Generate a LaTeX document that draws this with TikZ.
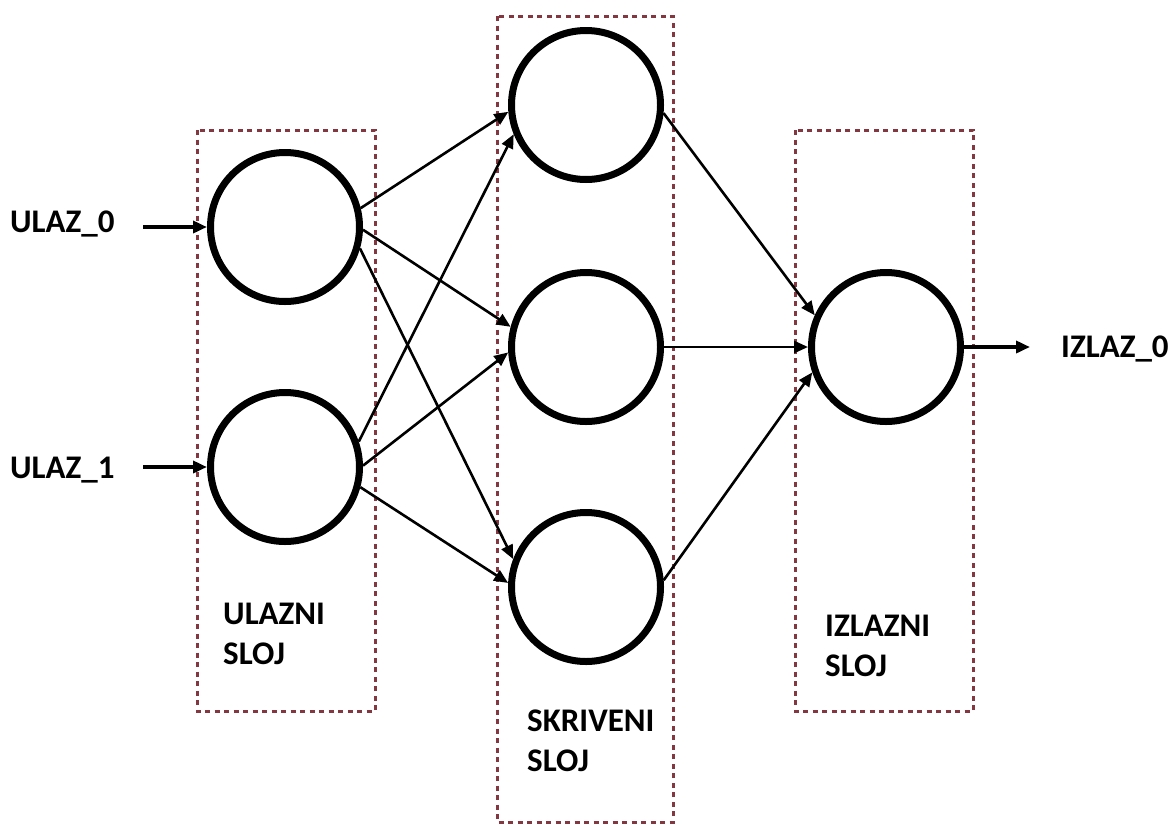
\documentclass[tikz,border=0pt]{standalone}
\usepackage{fontspec}
\setmainfont{Carlito}
\usetikzlibrary{arrows.meta}
\definecolor{boxred}{RGB}{130,55,65}

\begin{document}
\begin{tikzpicture}[x=1pt, y=-1pt,
    neuron/.style={circle, draw=black, line width=7pt, minimum size=149pt, inner sep=0pt},
    layerbox/.style={draw=boxred, line width=3pt, dash pattern=on 5pt off 4.5pt},
    arrow/.style={-{Triangle[length=14pt, width=12pt]}, line width=2.6pt, black},
    label/.style={font=\fontsize{33}{40}\selectfont\bfseries, inner sep=0pt, align=left}
]
    \useasboundingbox (0,0) rectangle (1172,825);

    % Layer boxes
    \draw[layerbox] (197,130) rectangle (375,711);
    \draw[layerbox] (497,16) rectangle (673,822);
    \draw[layerbox] (795,130) rectangle (973,711);

    % Nodes
    \node[neuron] (in0) at (285,227) {};
    \node[neuron] (in1) at (285,467) {};
    \node[neuron] (h0) at (586,105) {};
    \node[neuron] (h1) at (586,347) {};
    \node[neuron] (h2) at (586,587) {};
    \node[neuron] (out) at (886,347) {};

    % Inputs and output
    \node[label, anchor=base west] (x0) at (10,232) {ULAZ\_0};
    \node[label, anchor=base west] (x1) at (10,478) {ULAZ\_1};
    \node[label, anchor=base west] (y0) at (1061,357) {IZLAZ\_0};
    \coordinate (x0end) at (143,227);
    \coordinate (x1end) at (143,467);
    \coordinate (y0end) at (1030,347);

    % Arrows
    \draw[arrow, line width=3.5pt] (x0end) -- (in0);
    \draw[arrow, line width=3.5pt] (x1end) -- (in1);
    \draw[arrow] (in0.14) -- (h0.185);
    \draw[arrow] (in0.-2) -- (h1.165);
    \draw[arrow] (in0.-16) -- (h2.159);
    \draw[arrow] (in1.19) -- (h0.202);
    \draw[arrow] (in1.1) -- (h1.184);
    \draw[arrow] (in1.-15) -- (h2.177);
    \draw[arrow] (h0.-6) -- (out.156);
    \draw[arrow] (h1) -- (out);
    \draw[arrow] (h2.5) -- (out.199);
    \draw[arrow, line width=3.5pt] (out) -- (y0end);

    % Layer labels
    \node[label, anchor=north west] (linput) at (223,603) {ULAZNI\\SLOJ};
    \node[label, anchor=north west] (lhidden) at (527,710) {SKRIVENI\\SLOJ};
    \node[label, anchor=north west] (loutput) at (825,615) {IZLAZNI\\SLOJ};
\end{tikzpicture}
\end{document}
